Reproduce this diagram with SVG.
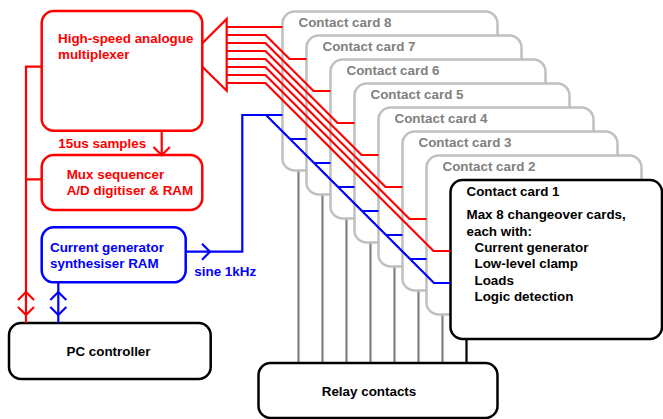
<svg xmlns="http://www.w3.org/2000/svg" width="663" height="419" viewBox="0 0 663 419">
  <style>
    text { font-family: "Liberation Sans", Arial, sans-serif; font-weight: bold; font-size: 13.4px; }
    .red { fill: none; stroke: #ff0000; stroke-width: 2.2; }
    .blue { fill: none; stroke: #0000ff; stroke-width: 2.2; }
    .boxr { fill: #ffffff; stroke: #ff0000; stroke-width: 2.5; }
    .boxb { fill: #ffffff; stroke: #0000ff; stroke-width: 2.5; }
    .boxk { fill: #ffffff; stroke: #000000; stroke-width: 2.5; }
    .card { fill: #ffffff; stroke: #c0c0c0; stroke-width: 2.5; }
    .tr { fill: #ff0000; }
    .tb { fill: #0000ff; }
    .tk { fill: #000000; }
    .tg { fill: #808080; }
    .wire { stroke: #808080; stroke-width: 2.2; fill: none; }
  </style>

  <!-- relay contact wires from each card -->
  <g id="contact-wires">
    <path class="wire" d="M298.5 170.5V363M322.5 194.5V363M346.5 218.5V363M370.5 242.5V363M394.5 266.5V363M418.5 290.5V363M442.5 314.5V363"/>
    <path d="M466.5 338.5V363" stroke="#000" stroke-width="2.2"/>
  </g>

  <!-- stacked contact cards -->
  <g id="card8"><rect class="card" x="282.5" y="11.5" width="215" height="159" rx="12"/><text class="tg" x="298.5" y="27">Contact card 8</text></g>
  <g id="card7"><rect class="card" x="306.5" y="35.5" width="215" height="159" rx="12"/><text class="tg" x="322.5" y="51">Contact card 7</text></g>
  <g id="card6"><rect class="card" x="330.5" y="59.5" width="215" height="159" rx="12"/><text class="tg" x="346.5" y="75">Contact card 6</text></g>
  <g id="card5"><rect class="card" x="354.5" y="83.5" width="215" height="159" rx="12"/><text class="tg" x="370.5" y="99">Contact card 5</text></g>
  <g id="card4"><rect class="card" x="378.5" y="107.5" width="215" height="159" rx="12"/><text class="tg" x="394.5" y="123">Contact card 4</text></g>
  <g id="card3"><rect class="card" x="402.5" y="131.5" width="215" height="159" rx="12"/><text class="tg" x="418.5" y="147">Contact card 3</text></g>
  <g id="card2"><rect class="card" x="426.5" y="155.5" width="215" height="159" rx="12"/><text class="tg" x="442.5" y="171">Contact card 2</text></g>
  <g id="card1">
    <rect class="boxk" x="450.5" y="180" width="211.5" height="159" rx="12"/>
    <text class="tk" x="466.5" y="196">Contact card 1</text>
    <text class="tk" x="466.5" y="219">Max 8 changeover cards,</text>
    <text class="tk" x="466.5" y="235.5">each with:</text>
    <text class="tk" x="474.5" y="252">Current generator</text>
    <text class="tk" x="474.5" y="268">Low-level clamp</text>
    <text class="tk" x="474.5" y="284.5">Loads</text>
    <text class="tk" x="474.5" y="300.5">Logic detection</text>
  </g>

  <g id="relay">
    <rect class="boxk" x="258.5" y="363" width="239" height="55" rx="12"/>
    <text class="tk" x="369" y="396" text-anchor="middle">Relay contacts</text>
  </g>

  <g id="mux">
    <rect class="boxr" x="41.7" y="11" width="160.6" height="119.7" rx="12"/>
    <text class="tr" x="58" y="43">High-speed analogue</text>
    <text class="tr" x="58" y="59">multiplexer</text>
  </g>

  <g id="sequencer">
    <rect class="boxr" x="41.7" y="155" width="160.6" height="55" rx="12"/>
    <text class="tr" x="66.7" y="178.5">Mux sequencer</text>
    <text class="tr" x="66.7" y="194.5">A/D digitiser &amp; RAM</text>
  </g>

  <g id="generator">
    <rect class="boxb" x="41.7" y="227.3" width="144" height="55" rx="12"/>
    <text class="tb" x="50" y="252">Current generator</text>
    <text class="tb" x="50" y="268">synthesiser RAM</text>
  </g>

  <g id="pc">
    <rect class="boxk" x="9" y="323" width="201.7" height="56" rx="12"/>
    <text class="tk" x="108.5" y="356" text-anchor="middle">PC controller</text>
  </g>

  <!-- connectors -->
  <g id="connectors">
    <!-- multiplexer input funnel -->
    <path class="red" d="M202.3 43.3L226.7 19V90.7L202.3 66.7"/>
    <!-- multiplexer channels to each card -->
    <path class="red" d="M226.7 27H282.5"/>
    <path class="red" d="M226.7 35H265.5L289.5 59H306.5"/>
    <path class="red" d="M226.7 43H265.5L313.5 91H330.5"/>
    <path class="red" d="M226.7 51H265.5L337.5 123H354.5"/>
    <path class="red" d="M226.7 59H265.5L361.5 155H378.5"/>
    <path class="red" d="M226.7 67H265.5L385.5 187H402.5"/>
    <path class="red" d="M226.7 75H265.5L409.5 219H426.5"/>
    <path class="red" d="M226.7 83H265.5L433.5 251H450.5"/>

    <!-- mux to sequencer -->
    <path class="red" d="M161.7 130.7V155M153.5 147L161.7 155.2L169.9 147"/>
    <!-- labels on links -->
    <text class="tr" x="58.3" y="147.5">15us samples</text>

    <!-- PC bus to mux and sequencer -->
    <path class="red" d="M41.7 66.7H26V323M26 179.3H41.7"/>
    <path class="red" d="M18 300L26 292L34 300M18 307L26 315L34 307"/>

    <!-- PC to current generator -->
    <path class="blue" d="M58.3 282.3V323"/>
    <path class="blue" d="M50.3 300L58.3 292L66.3 300M50.3 307L58.3 315L66.3 307"/>

    <!-- current generator drive to each card -->
    <path class="blue" d="M185.7 251.7H242.3V115H282.5"/>
    <path class="blue" d="M202 243.7L210 251.7L202 259.7"/>
    <text class="tb" x="194.3" y="276">sine 1kHz</text>
    <path class="blue" d="M266 115L434 283H450.5"/>
    <path class="blue" d="M290 139H306.5M314 163H330.5M338 187H354.5M362 211H378.5M386 235H402.5M410 259H426.5"/>
  </g>
</svg>
